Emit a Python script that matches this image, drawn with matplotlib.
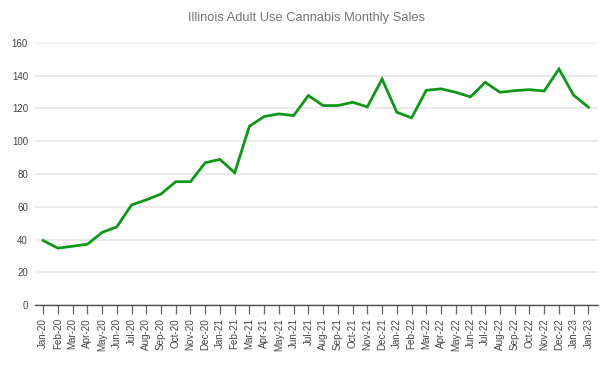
import matplotlib
matplotlib.use("Agg")
import matplotlib.pyplot as plt

months = ["Jan-20", "Feb-20", "Mar-20", "Apr-20", "May-20", "Jun-20", "Jul-20", "Aug-20",
          "Sep-20", "Oct-20", "Nov-20", "Dec-20", "Jan-21", "Feb-21", "Mar-21", "Apr-21",
          "May-21", "Jun-21", "Jul-21", "Aug-21", "Sep-21", "Oct-21", "Nov-21", "Dec-21",
          "Jan-22", "Feb-22", "Mar-22", "Apr-22", "May-22", "Jun-22", "Jul-22", "Aug-22",
          "Sep-22", "Oct-22", "Nov-22", "Dec-22", "Jan-23", "Jan-23"]
sales = [39.4, 34.7, 35.9, 37.1, 44.3, 47.7, 61.1, 64.2,
         67.8, 75.3, 75.3, 86.9, 88.9, 80.8, 109.2, 115.1,
         116.7, 115.7, 127.9, 121.8, 121.8, 123.8, 121.0, 138.0,
         117.7, 114.3, 131.1, 132.0, 129.9, 127.1, 136.0, 129.9,
         130.9, 131.5, 130.7, 144.1, 128.1, 120.8]
yticks = [0, 20, 40, 60, 80, 100, 120, 140, 160]

plt.rcParams['font.family'] = ['Liberation Sans', 'DejaVu Sans']

fig = plt.figure(figsize=(6.09, 3.67), dpi=100)
ax = fig.add_axes([35/609, 62/367, 563/609, 262/367])

x = list(range(len(sales)))
ax.plot(x, sales, color="#109618", linewidth=2.0, solid_joinstyle="miter", zorder=3)

ax.set_xlim(-0.55, len(sales) - 1 + 0.65)
ax.set_ylim(0, 160)
ax.set_yticks(yticks)
ax.set_yticklabels([str(v) for v in yticks])
ax.set_xticks(x)
ax.set_xticklabels(months, rotation=90)

ax.grid(axis="y", color="#e6e6e6", linewidth=1.2, zorder=0)
ax.set_axisbelow(True)
for s in ["top", "right", "left"]:
    ax.spines[s].set_visible(False)
ax.spines["bottom"].set_color("#555555")
ax.spines["bottom"].set_linewidth(1.0)
ax.spines["bottom"].set_zorder(4)

ax.tick_params(axis="x", length=6.5, width=0.9, color="#666666", pad=3,
               labelsize=7.1, labelcolor="#444444")
ax.tick_params(axis="y", length=0, pad=5, labelsize=7.0, labelcolor="#444444")

fig.text(0.504, 1 - 18/367, "Illinois Adult Use Cannabis Monthly Sales",
         ha="center", va="center", fontsize=9.3, color="#757575")

fig.savefig("out.png", dpi=100)
